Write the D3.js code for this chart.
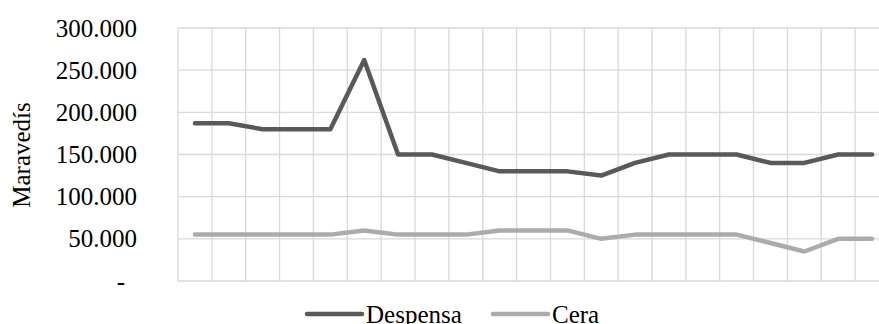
<!DOCTYPE html>
<html>
<head>
<meta charset="utf-8">
<script src="https://cdn.jsdelivr.net/npm/d3@7"></script>
<style>
  html, body { margin: 0; padding: 0; background: #fff; }
  svg { display: block; }
  text { font-family: "Liberation Serif", "DejaVu Serif", serif; fill: #000; }
</style>
</head>
<body>
<svg id="chart" width="879" height="324"></svg>
<script>
// Annual expenditure, in maravedís
const periods = d3.range(21);
const despensa = [187000, 187000, 180000, 180000, 180000, 262000, 150000, 150000, 140000, 130000, 130000,
                  130000, 125000, 140000, 150000, 150000, 150000, 140000, 140000, 150000, 150000];
const cera = [55000, 55000, 55000, 55000, 55000, 60000, 55000, 55000, 55000, 60000, 60000,
              60000, 50000, 55000, 55000, 55000, 55000, 45000, 35000, 50000, 50000];
const yTicks = [0, 50000, 100000, 150000, 200000, 250000, 300000];
const seriesNames = ["Despensa", "Cera"];
const seriesColors = ["#595959", "#AEAAAA"];

const svg = d3.select("#chart");
const plot = { left: 178, right: 889, top: 28, bottom: 281 };

const x = d3.scaleBand().domain(periods).range([plot.left, plot.right]);
const y = d3.scaleLinear().domain([0, 300000]).range([plot.bottom, plot.top]);

const grid = "#D9D9D9";

// horizontal gridlines
svg.append("g").selectAll("line").data(yTicks).join("line")
  .attr("x1", plot.left).attr("x2", plot.right)
  .attr("y1", d => y(d)).attr("y2", d => y(d))
  .attr("stroke", grid).attr("stroke-width", 1.3);

// vertical gridlines at category boundaries
const bounds = periods.map(p => x(p)).concat([x(periods[periods.length - 1]) + x.bandwidth()]);
svg.append("g").selectAll("line").data(bounds).join("line")
  .attr("x1", d => d).attr("x2", d => d)
  .attr("y1", plot.top).attr("y2", plot.bottom)
  .attr("stroke", grid).attr("stroke-width", 1.3);

// y axis labels
const fmt = v => v === 0 ? "-" : d3.format(",")(v).replace(/,/g, ".");
svg.append("g").selectAll("text").data(yTicks).join("text")
  .attr("x", d => d === 0 ? 125 : 137)
  .attr("y", d => y(d))
  .attr("dy", "0.34em")
  .attr("text-anchor", "end")
  .style("font-size", "25px")
  .text(fmt);

// axis title
svg.append("text")
  .attr("transform", `translate(30,155) rotate(-90)`)
  .attr("text-anchor", "middle")
  .style("font-size", "25px")
  .text("Maravedís");

// series lines
const line = d3.line()
  .x((d, i) => x(periods[i]) + x.bandwidth() / 2)
  .y(d => y(d));

[despensa, cera].forEach((vals, k) => {
  svg.append("path")
    .datum(vals)
    .attr("d", line)
    .attr("fill", "none")
    .attr("stroke", seriesColors[k])
    .attr("stroke-width", 4.5)
    .attr("stroke-linejoin", "round")
    .attr("stroke-linecap", "round");
});

// legend
const legendX = [307, 493];
const legend = svg.append("g");
seriesNames.forEach((name, k) => {
  legend.append("line")
    .attr("x1", legendX[k]).attr("x2", legendX[k] + 55)
    .attr("y1", 314).attr("y2", 314)
    .attr("stroke", seriesColors[k])
    .attr("stroke-width", 4.5)
    .attr("stroke-linecap", "round");
  legend.append("text")
    .attr("x", legendX[k] + 59)
    .attr("y", 314)
    .attr("dy", "0.34em")
    .style("font-size", "25px")
    .text(name);
});
</script>
</body>
</html>
